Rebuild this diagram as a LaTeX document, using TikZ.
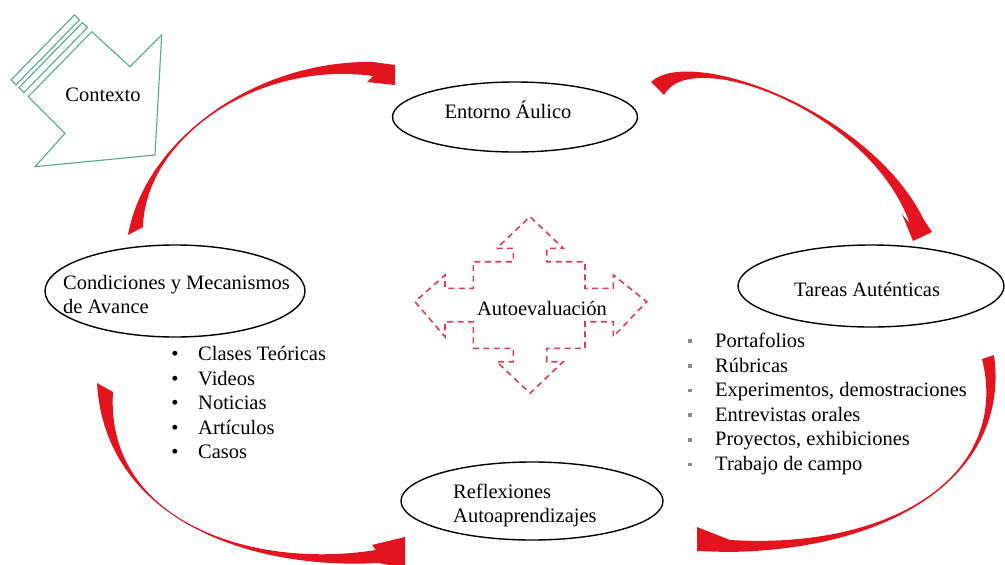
\documentclass[tikz,border=0pt]{standalone}
\usepackage{fontspec}
\setmainfont{Liberation Serif}
\usetikzlibrary{shapes.geometric}
\definecolor{arrowred}{RGB}{228,20,30}
\definecolor{ctxgreen}{RGB}{85,170,140}
\definecolor{dashred}{RGB}{225,60,85}
\begin{document}
\begin{tikzpicture}[x=1pt,y=-1pt,
  every node/.style={font=\fontsize{20.5}{24.6}\selectfont, inner sep=0pt},
  ell/.style={draw=black, line width=1.4pt, ellipse, inner sep=0pt},
  lbl/.style={anchor=base west},
  ctrlbl/.style={anchor=base},
  bul/.style={anchor=base},
  sqbul/.style={fill=black!45, minimum size=3.5pt, inner sep=0pt},
  redarrow/.style={fill=arrowred, draw=none},
  ctx/.style={draw=ctxgreen, line width=1.1pt, line join=miter},
  autoev/.style={draw=dashred, line width=1.6pt, dash pattern=on 6pt off 4.5pt}]
\useasboundingbox (0,0) rectangle (1005,565);
\fill[white] (0,0) rectangle (1005,565);
\clip (0,0) rectangle (1005,565);

% Contexto striped arrow
\draw[ctx] (91.7,31.7) -- (130,66.7) -- (161.7,35) -- (155,155) -- (35,166.7) -- (65,133.3) -- (28.3,96.7) -- cycle;
\draw[ctx] (87.4,27.5) -- (24.0,92.5) -- (19.0,87.6) -- (82.4,22.6) -- cycle;
\draw[ctx] (79.5,19.8) -- (16.1,84.8) -- (11.1,79.9) -- (74.5,14.9) -- cycle;
\node[ctrlbl] (ctxt) at (103,101) {Contexto};

% curved red arrows
\fill[redarrow] (128,235) .. controls (145,140) and (255,60) .. (373,62) -- (395,65) -- (395,85) -- (367,82) -- (373,76) .. controls (255,60) and (145,140) .. (143,227) -- cycle;
\fill[redarrow] (651,82) .. controls (690,45) and (870,110) .. (924,220) -- (932,232) -- (913,241) -- (902,214) -- (910,224) .. controls (870,110) and (690,45) .. (664,95) -- cycle;
\fill[redarrow] (994,355) .. controls (1010,470) and (900,550) .. (727,552) -- (697,551) -- (697,527) -- (730,540) .. controls (900,550) and (1010,470) .. (982,359) -- cycle;
\fill[redarrow] (97,383) .. controls (105,520) and (250,570) .. (378,563) -- (405,568) -- (405,537) -- (372,545) -- (376,550) .. controls (250,570) and (105,520) .. (113,392) -- cycle;

% ellipses
\node[ell, minimum width=245pt, minimum height=70pt] (entorno) at (515,117) {};
\node[ell, minimum width=266pt, minimum height=82pt] (tareas) at (871,286) {};
\node[ell, minimum width=260pt, minimum height=92pt] (condic) at (175,291) {};
\node[ell, minimum width=262pt, minimum height=78pt] (reflex) at (532,501) {};

\node[ctrlbl] (entornoT) at (508,118.5) {Entorno Áulico};
\node[ctrlbl] (tareasT) at (867,296) {Tareas Auténticas};
\node[lbl] (condicT1) at (63,289) {Condiciones y Mecanismos};
\node[lbl] (condicT2) at (63,313) {de Avance};
\node[lbl] (reflexT1) at (453,498) {Reflexiones};
\node[lbl] (reflexT2) at (453,522) {Autoaprendizajes};

% Autoevaluacion four-way arrow
\draw[autoev] (496.7,248.3) -- (513.3,248.3) -- (513.3,261.7) -- (473.3,261.7) -- (473.3,288.3) -- (445,288.3) -- (445,275) -- (415,301.7) -- (445,336.7) -- (445,321.7) -- (473.3,321.7) -- (473.3,348.3) -- (513.3,348.3) -- (513.3,361.7) -- (496.7,361.7) -- (530,393.3) -- (563.3,361.7) -- (546.7,361.7) -- (546.7,348.3) -- (585,348.3) -- (585,321.7) -- (613.3,321.7) -- (613.3,336.7) -- (646.7,301.7) -- (613.3,275) -- (613.3,288.3) -- (585,288.3) -- (585,261.7) -- (546.7,261.7) -- (546.7,248.3) -- (563.3,248.3) -- (530,216.7) -- cycle;
\node[ctrlbl] (autoT) at (542,315) {Autoevaluación};

% left list
\foreach \t/\y [count=\i] in {Clases Teóricas/360.5, Videos/385, Noticias/409.5, Artículos/434, Casos/458.5}{
  \node[bul] (lb\i) at (175,\y) {\textbullet};
  \node[lbl] (lt\i) at (198,\y) {\t};
}

% right list
\foreach \t/\y [count=\i] in {Portafolios/347, Rúbricas/372, {Experimentos, demostraciones}/396.6, Entrevistas orales/421.2, {Proyectos, exhibiciones}/445.8, Trabajo de campo/470.4}{
  \node[sqbul] (rb\i) at (690,\y-6) {};
  \node[lbl] (rt\i) at (715,\y) {\t};
}
\end{tikzpicture}
\end{document}
